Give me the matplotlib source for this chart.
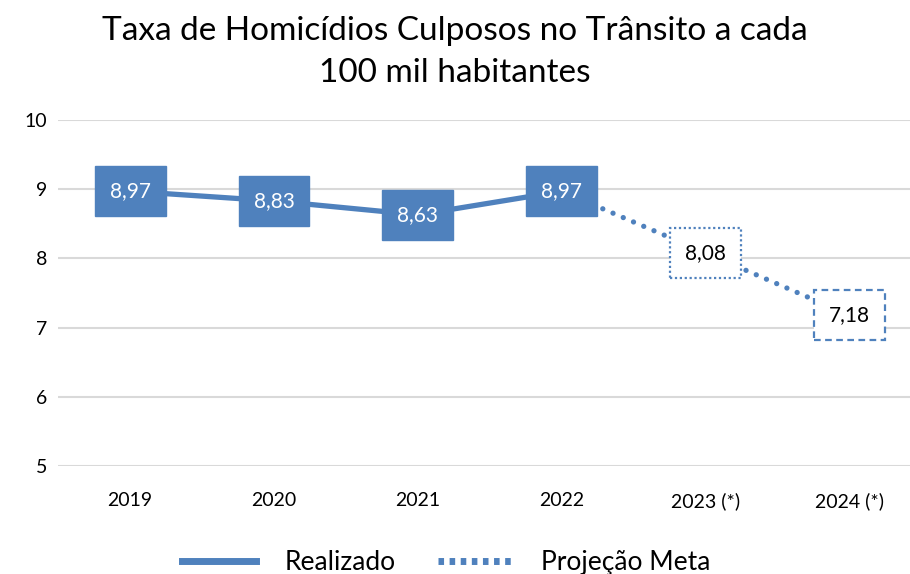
import numpy as np
import matplotlib
matplotlib.use('Agg')
from matplotlib import pyplot as plt
from matplotlib.lines import Line2D

plt.rcParams['font.family'] = ['Lato', 'DejaVu Sans']

years = ['2019', '2020', '2021', '2022', '2023 (*)', '2024 (*)']
realizado = [8.97, 8.83, 8.63, 8.97]
projecao = [8.97, 8.08, 7.18]
labels_real = ['8,97', '8,83', '8,63', '8,97']
labels_proj = ['8,08', '7,18']

BLUE = '#4F81BD'

fig = plt.figure(figsize=(9.1, 5.74), dpi=100)
ax = fig.add_axes([0.064, 0.188, 0.936, 0.603])

x = np.arange(len(years))
ax.plot(x[:4], realizado, color=BLUE, lw=3.8, solid_capstyle='butt', zorder=3)
ax.plot(x[3:], projecao, color=BLUE, lw=3.8, linestyle=(0, (0.01, 2.1)),
        dash_capstyle='round', zorder=3)

for xi, v, s in zip(x[:4], realizado, labels_real):
    ax.text(xi, v, s, ha='center', va='center', fontsize=15, color='white', zorder=5,
            bbox=dict(boxstyle='square,pad=0.72', fc=BLUE, ec=BLUE))

styles = [(0, (1, 1.2)), (0, (3, 2))]
for xi, v, s, ls in zip(x[4:], projecao[1:], labels_proj, styles):
    ax.text(xi, v, s, ha='center', va='center', fontsize=15, color='black', zorder=5,
            bbox=dict(boxstyle='square,pad=0.72', fc='white', ec=BLUE, lw=1.6, ls=ls))

ax.set_ylim(5, 10)
ax.set_xlim(-0.5, 5.42)
ax.set_yticks([5, 6, 7, 8, 9, 10])
ax.set_xticks(x)
ax.set_xticklabels(years)
ax.tick_params(length=0, labelsize=14, pad=8)
ax.tick_params(axis='x', pad=19)
ax.grid(axis='y', color='#D9D9D9', lw=1.5)
ax.set_axisbelow(True)
for sp in ax.spines.values():
    sp.set_visible(False)
ax.patch.set_alpha(0)

fig.text(0.5, 0.91, 'Taxa de Homicídios Culposos no Trânsito a cada\n100 mil habitantes',
         ha='center', va='center', fontsize=24, linespacing=1.5)

handles = [Line2D([], [], color=BLUE, lw=5),
           Line2D([], [], color=BLUE, lw=5, linestyle=(0, (0.8, 0.8)))]
fig.legend(handles, ['Realizado', 'Projeção Meta'], loc='center', bbox_to_anchor=(0.49, 0.02),
           ncol=2, frameon=False, fontsize=19, handlelength=2.8, handletextpad=1.1,
           columnspacing=1.6)

fig.savefig('out.png', dpi=100)
